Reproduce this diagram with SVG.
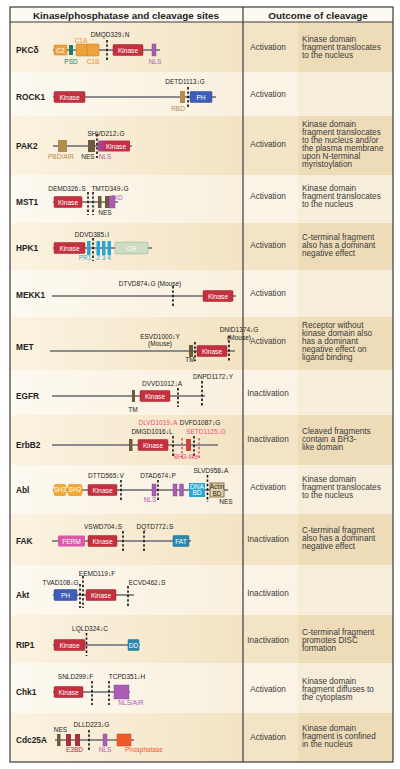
<svg xmlns="http://www.w3.org/2000/svg" width="400" height="769" viewBox="0 0 400 769">
<defs>
<linearGradient id="tan" x1="0" y1="0" x2="1" y2="0"><stop offset="0" stop-color="#fbf3e1"/><stop offset="1" stop-color="#f3e3c3"/></linearGradient>
<linearGradient id="lt" x1="0" y1="0" x2="1" y2="0"><stop offset="0" stop-color="#fdf9f0"/><stop offset="1" stop-color="#f9f0de"/></linearGradient>
<linearGradient id="pak" x1="0" y1="0" x2="1" y2="0"><stop offset="0" stop-color="#a2479a"/><stop offset="0.35" stop-color="#c2304a"/><stop offset="1" stop-color="#c2304a"/></linearGradient>
<style>
.bb{stroke:#8b8b8b;stroke-width:2;fill:none}
.cut{stroke:#111;stroke-width:1.6;stroke-dasharray:2.4 2;fill:none}
.cutp{stroke:#e8507a;stroke-width:1.6;stroke-dasharray:2.4 2;fill:none}
.lab{font-family:"Liberation Sans",Arial,sans-serif;font-weight:bold;font-size:8.3px;fill:#222}
.hd{font-family:"Liberation Sans",Arial,sans-serif;font-weight:bold;font-size:9.9px;fill:#222;text-anchor:middle}
.site{font-family:"Liberation Sans",Arial,sans-serif;font-size:6.5px;fill:#222;text-anchor:middle}
.dl{font-family:"Liberation Sans",Arial,sans-serif;font-size:6.5px;text-anchor:middle}
.dom{font-family:"Liberation Sans",Arial,sans-serif;font-size:6.6px;fill:#fff;text-anchor:middle}
.out{font-family:"Liberation Sans",Arial,sans-serif;font-size:8.2px;fill:#3a3a3a}
.oc{text-anchor:middle}
.kin{fill:#c3313f;stroke:#9c2530;stroke-width:0.5}
.org{fill:#eea23c;stroke:#c77d20;stroke-width:0.5}
.pur{fill:#ab5db5;stroke:#844290;stroke-width:0.4}
.brn{fill:#6e5a3a}
.blu{fill:#3e5db8;stroke:#2c4490;stroke-width:0.5}
.cyn{fill:#2aa6d6}
.tea{fill:#2a88ad;stroke:#1f6c8a;stroke-width:0.5}
.tn{fill:#b48d4e}
</style>
</defs>
<rect x="0" y="0" width="400" height="769" fill="#ffffff"/>
<g id="rows">
<rect x="10" y="7" width="383" height="15" fill="#fdfaf3"/>
<rect x="10" y="22" width="233" height="50" fill="url(#tan)"/><rect x="243" y="22" width="55" height="50" fill="#f3e4c6"/><rect x="298" y="22" width="95" height="50" fill="#eedcb9"/>
<rect x="10" y="72" width="233" height="44" fill="url(#lt)"/><rect x="243" y="72" width="55" height="44" fill="#fbf4e6"/><rect x="298" y="72" width="95" height="44" fill="#f6eddb"/>
<rect x="10" y="116" width="233" height="59" fill="url(#tan)"/><rect x="243" y="116" width="55" height="59" fill="#f3e4c6"/><rect x="298" y="116" width="95" height="59" fill="#eedcb9"/>
<rect x="10" y="175" width="233" height="48" fill="url(#lt)"/><rect x="243" y="175" width="55" height="48" fill="#fbf4e6"/><rect x="298" y="175" width="95" height="48" fill="#f6eddb"/>
<rect x="10" y="223" width="233" height="47" fill="url(#tan)"/><rect x="243" y="223" width="55" height="47" fill="#f3e4c6"/><rect x="298" y="223" width="95" height="47" fill="#eedcb9"/>
<rect x="10" y="270" width="233" height="47" fill="url(#lt)"/><rect x="243" y="270" width="55" height="47" fill="#fbf4e6"/><rect x="298" y="270" width="95" height="47" fill="#f6eddb"/>
<rect x="10" y="317" width="233" height="53" fill="url(#tan)"/><rect x="243" y="317" width="55" height="53" fill="#f3e4c6"/><rect x="298" y="317" width="95" height="53" fill="#eedcb9"/>
<rect x="10" y="370" width="233" height="45" fill="url(#lt)"/><rect x="243" y="370" width="55" height="45" fill="#fbf4e6"/><rect x="298" y="370" width="95" height="45" fill="#f6eddb"/>
<rect x="10" y="415" width="233" height="50" fill="url(#tan)"/><rect x="243" y="415" width="55" height="50" fill="#f3e4c6"/><rect x="298" y="415" width="95" height="50" fill="#eedcb9"/>
<rect x="10" y="465" width="233" height="49" fill="url(#lt)"/><rect x="243" y="465" width="55" height="49" fill="#fbf4e6"/><rect x="298" y="465" width="95" height="49" fill="#f6eddb"/>
<rect x="10" y="514" width="233" height="51" fill="url(#tan)"/><rect x="243" y="514" width="55" height="51" fill="#f3e4c6"/><rect x="298" y="514" width="95" height="51" fill="#eedcb9"/>
<rect x="10" y="565" width="233" height="50" fill="url(#lt)"/><rect x="243" y="565" width="55" height="50" fill="#fbf4e6"/><rect x="298" y="565" width="95" height="50" fill="#f6eddb"/>
<rect x="10" y="615" width="233" height="48" fill="url(#tan)"/><rect x="243" y="615" width="55" height="48" fill="#f3e4c6"/><rect x="298" y="615" width="95" height="48" fill="#eedcb9"/>
<rect x="10" y="663" width="233" height="50" fill="url(#lt)"/><rect x="243" y="663" width="55" height="50" fill="#fbf4e6"/><rect x="298" y="663" width="95" height="50" fill="#f6eddb"/>
<rect x="10" y="713" width="233" height="49" fill="url(#tan)"/><rect x="243" y="713" width="55" height="49" fill="#f3e4c6"/><rect x="298" y="713" width="95" height="49" fill="#eedcb9"/>
</g>
<g id="frame" fill="none" stroke="#3a3a3a" stroke-width="1.2">
<rect x="10" y="7" width="383" height="755"/>
<line x1="10" y1="22" x2="393" y2="22"/>
<line x1="243" y1="7" x2="243" y2="762"/>
</g>
<g id="header">
<text class="hd" x="126" y="18.5">Kinase/phosphatase and cleavage sites</text>
<text class="hd" x="318" y="18.5">Outcome of cleavage</text>
</g>

<g id="pkcd">
<text class="lab" x="16" y="53">PKCδ</text>
<line class="bb" x1="53" y1="50" x2="160" y2="50"/>
<rect class="org" x="54" y="45" width="13" height="10" rx="1"/><text class="dom" x="60.5" y="52.5">C2</text>
<rect x="69" y="45" width="4" height="10" fill="#1e7d6c"/>
<rect class="org" x="76" y="44" width="23" height="12" rx="1"/><line x1="87" y1="44" x2="87" y2="56" stroke="#c77d20" stroke-width="0.6"/>
<line class="cut" x1="107" y1="40" x2="107" y2="61"/>
<rect class="kin" x="113" y="44.5" width="30" height="11" rx="1"/><text class="dom" x="128" y="52.5">Kinase</text>
<rect class="pur" x="152" y="44" width="4" height="12"/>
<text class="site" x="110" y="37">DMQD329↓N</text>
<text class="dl" x="81" y="43" fill="#ec8a3a">C1A</text>
<text class="dl" x="71" y="63.5" fill="#1e7d6c">PSD</text>
<text class="dl" x="93" y="63.5" fill="#ec8a3a">C1B</text>
<text class="dl" x="155" y="63.5" fill="#ab5db5">NLS</text>
<text class="out oc" x="268" y="50">Activation</text>
<text class="out" x="302" y="42">Kinase domain</text>
<text class="out" x="302" y="50">fragment translocates</text>
<text class="out" x="302" y="58">to the nucleus</text>
</g>

<g id="rock1">
<text class="lab" x="16" y="100">ROCK1</text>
<line class="bb" x1="53" y1="97" x2="216" y2="97"/>
<rect class="kin" x="54" y="91.5" width="31" height="11" rx="1"/><text class="dom" x="69.5" y="99.5">Kinase</text>
<rect class="tn" x="180" y="91" width="5" height="12"/>
<line class="cut" x1="188" y1="87" x2="188" y2="108"/>
<rect class="blu" x="190" y="91.5" width="22" height="11" rx="1"/><text class="dom" x="201" y="99.5">PH</text>
<text class="site" x="185" y="84">DETD1113↓G</text>
<text class="dl" x="178" y="110.5" fill="#b48d4e">RBD</text>
<text class="out oc" x="268" y="97">Activation</text>
</g>

<g id="pak2">
<text class="lab" x="16" y="149">PAK2</text>
<line class="bb" x1="53" y1="146" x2="132" y2="146"/>
<rect class="tn" x="58" y="140" width="9" height="12"/>
<rect class="brn" x="88" y="140" width="7" height="12"/>
<rect x="98" y="140.5" width="32" height="11" rx="1" fill="url(#pak)"/><text class="dom" x="116" y="148.5">Kinase</text>
<line class="cut" x1="97" y1="134" x2="97" y2="158"/>
<text class="site" x="106" y="136">SHVD212↓G</text>
<text class="dl" x="61" y="159" fill="#b48d4e">PBD/AIR</text>
<text class="dl" x="88" y="159" fill="#222">NES</text>
<text class="dl" x="105" y="159" fill="#ab5db5">NLS</text>
<text class="out oc" x="268" y="147">Activation</text>
<text class="out" x="302" y="127">Kinase domain</text>
<text class="out" x="302" y="135">fragment translocates</text>
<text class="out" x="302" y="143">to the nucleus and/or</text>
<text class="out" x="302" y="151">the plasma membrane</text>
<text class="out" x="302" y="159">upon N-terminal</text>
<text class="out" x="302" y="167">myristoylation</text>
</g>

<g id="mst1">
<text class="lab" x="16" y="205">MST1</text>
<line class="bb" x1="53" y1="202" x2="118" y2="202"/>
<rect class="kin" x="54" y="196.5" width="28" height="11" rx="1"/><text class="dom" x="68" y="204.5">Kinase</text>
<line class="cut" x1="88" y1="192" x2="88" y2="215"/>
<line class="cut" x1="93" y1="192" x2="93" y2="215"/>
<rect class="brn" x="98" y="196" width="3.5" height="12"/>
<rect class="brn" x="105" y="196" width="4" height="12"/>
<rect class="pur" x="109" y="196" width="6" height="12"/>
<text class="site" x="67" y="191">DEMD326↓S</text>
<text class="site" x="110" y="191">TMTD349↓G</text>
<text class="dl" x="117" y="199.5" fill="#ab5db5" text-anchor="start">DID</text>
<text class="dl" x="105" y="215" fill="#222">NES</text>
<text class="out oc" x="268" y="199">Activation</text>
<text class="out" x="302" y="191">Kinase domain</text>
<text class="out" x="302" y="199">fragment translocates</text>
<text class="out" x="302" y="207">to the nucleus</text>
</g>

<g id="hpk1">
<text class="lab" x="16" y="251">HPK1</text>
<line class="bb" x1="53" y1="248" x2="152" y2="248"/>
<rect class="kin" x="54" y="242.5" width="31" height="11" rx="1"/><text class="dom" x="69.5" y="250.5">Kinase</text>
<rect class="cyn" x="87" y="241" width="3.5" height="14"/>
<rect class="cyn" x="96.5" y="241" width="3.5" height="14"/>
<rect class="cyn" x="102" y="241" width="3.5" height="14"/>
<rect class="cyn" x="107.5" y="241" width="3.5" height="14"/>
<line class="cut" x1="93" y1="238" x2="93" y2="261"/>
<rect x="115" y="242" width="33" height="12" rx="1" fill="#cfdcc4" stroke="#9aa890" stroke-width="0.5"/><text class="dom" x="131.5" y="250.5">CH</text>
<text class="site" x="92" y="237">DDVD385↓I</text>
<text class="dl" x="85" y="260" fill="#2aa6d6">PR1</text>
<text class="dl" x="98" y="260" fill="#2aa6d6">2</text>
<text class="dl" x="103.5" y="260" fill="#2aa6d6">3</text>
<text class="dl" x="109" y="260" fill="#2aa6d6">4</text>
<text class="out oc" x="268" y="248">Activation</text>
<text class="out" x="302" y="240">C-terminal fragment</text>
<text class="out" x="302" y="248">also has a dominant</text>
<text class="out" x="302" y="256">negative effect</text>
</g>

<g id="mekk1">
<text class="lab" x="16" y="298">MEKK1</text>
<line class="bb" x1="52" y1="296" x2="236" y2="296"/>
<line class="cut" x1="173" y1="286" x2="173" y2="306"/>
<rect class="kin" x="203" y="290.5" width="30" height="11" rx="1"/><text class="dom" x="218" y="298.5">Kinase</text>
<text class="site" x="150" y="285.5" text-anchor="start">DTVD874↓G (Mouse)</text>
<text class="out oc" x="268" y="296">Activation</text>
</g>

<g id="met">
<text class="lab" x="16" y="350">MET</text>
<line class="bb" x1="50" y1="351" x2="235" y2="351"/>
<rect class="brn" x="189" y="345" width="4" height="12"/>
<line class="cut" x1="195" y1="342" x2="195" y2="361"/>
<rect class="kin" x="197" y="345.5" width="30" height="11" rx="1"/><text class="dom" x="212" y="353.5">Kinase</text>
<line class="cut" x1="229" y1="336" x2="229" y2="361"/>
<text class="site" x="160" y="339" text-anchor="start">ESVD1000↓Y</text>
<text class="site" x="160" y="346" text-anchor="start">(Mouse)</text>
<text class="site" x="239" y="332" text-anchor="end">DNID1374↓G</text>
<text class="site" x="239" y="339.5" text-anchor="end">(Mouse)</text>
<text class="site" x="190" y="362">TM</text>
<text class="out oc" x="268" y="344">Activation</text>
<text class="out" x="302" y="328">Receptor without</text>
<text class="out" x="302" y="336">kinase domain also</text>
<text class="out" x="302" y="344">has a dominant</text>
<text class="out" x="302" y="352">negative effect on</text>
<text class="out" x="302" y="360">ligand binding</text>
</g>

<g id="egfr">
<text class="lab" x="16" y="399">EGFR</text>
<line class="bb" x1="52" y1="396" x2="205" y2="396"/>
<rect class="brn" x="132" y="390" width="3" height="12"/>
<rect class="kin" x="140" y="390.5" width="30" height="11" rx="1"/><text class="dom" x="155" y="398.5">Kinase</text>
<line class="cut" x1="178" y1="388" x2="178" y2="407"/>
<line class="cut" x1="202" y1="381" x2="202" y2="407"/>
<text class="site" x="162" y="386">DVVD1012↓A</text>
<text class="site" x="213" y="379">DNPD1172↓Y</text>
<text class="site" x="133" y="412">TM</text>
<text class="out oc" x="268" y="396">Inactivation</text>
</g>

<g id="erbb2">
<text class="lab" x="16" y="448">ErbB2</text>
<line class="bb" x1="52" y1="445" x2="218" y2="445"/>
<rect class="brn" x="129" y="439" width="3.5" height="12"/>
<rect class="kin" x="138" y="439.5" width="30" height="11" rx="1"/><text class="dom" x="153" y="447.5">Kinase</text>
<line class="cut" x1="173" y1="436" x2="173" y2="457"/>
<line class="cutp" x1="182" y1="438" x2="182" y2="458"/>
<rect x="186" y="439" width="5" height="12" fill="#c4483a"/>
<line class="cut" x1="194" y1="436" x2="194" y2="457"/>
<line class="cutp" x1="199" y1="438" x2="199" y2="458"/>
<text class="dl" x="158" y="425" fill="#e8507a">DLVD1019↓A</text>
<text class="site" x="152" y="434">DMGD1016↓L</text>
<text class="site" x="200" y="425">DVFD1087↓G</text>
<text class="dl" x="206" y="434" fill="#e8507a">SETD1125↓G</text>
<text class="dl" x="186" y="459" fill="#e8507a" text-anchor="start">BH3-like</text>
<text class="out oc" x="268" y="442">Inactivation</text>
<text class="out" x="302" y="434">Cleaved fragments</text>
<text class="out" x="302" y="442">contain a BH3-</text>
<text class="out" x="302" y="450">like domain</text>
</g>

<g id="abl">
<text class="lab" x="16" y="493">Abl</text>
<line class="bb" x1="53" y1="490" x2="228" y2="490"/>
<polygon points="55,484.5 65,484.5 67,490 65,495.5 55,495.5 53,490" fill="#f2a930" stroke="#c98518" stroke-width="0.5"/><text class="dom" x="60" y="492.3" font-size="5.5">SH3</text>
<polygon points="69,484.5 81,484.5 83,490 81,495.5 69,495.5 67,490" fill="#f2a930" stroke="#c98518" stroke-width="0.5"/><text class="dom" x="75" y="492.3" font-size="5.5">SH2</text>
<rect class="kin" x="88" y="484.5" width="29" height="11" rx="1"/><text class="dom" x="102.5" y="492.5">Kinase</text>
<line class="cut" x1="121" y1="480" x2="121" y2="502"/>
<rect class="pur" x="152" y="484" width="4" height="12"/>
<line class="cut" x1="158" y1="480" x2="158" y2="502"/>
<rect class="pur" x="173" y="484" width="4" height="12"/>
<rect class="pur" x="179.5" y="484" width="4" height="12"/>
<rect x="189" y="483" width="16" height="14" fill="#2aa6d6"/><text class="dom" x="197" y="489" font-size="5.5">DNA</text><text class="dom" x="197" y="495" font-size="5.5">BD</text>
<line class="cut" x1="207.5" y1="475" x2="207.5" y2="502"/>
<rect x="210" y="483" width="14" height="14" fill="#e4d2a6" stroke="#6e5a3a" stroke-width="0.8"/><text class="site" x="217" y="489" font-size="5.8">Actin</text><text class="site" x="217" y="495.5" font-size="5.8">BD</text>
<text class="site" x="106" y="478">DTTD565↓V</text>
<text class="site" x="158" y="478">DTAD674↓P</text>
<text class="site" x="211" y="473">SLVD958↓A</text>
<text class="dl" x="150" y="501.5" fill="#ab5db5">NLS</text>
<text class="site" x="226" y="504">NES</text>
<text class="out oc" x="268" y="490">Activation</text>
<text class="out" x="302" y="482">Kinase domain</text>
<text class="out" x="302" y="490">fragment translocates</text>
<text class="out" x="302" y="498">to the nucleus</text>
</g>

<g id="fak">
<text class="lab" x="16" y="544">FAK</text>
<line class="bb" x1="52" y1="541" x2="191" y2="541"/>
<rect x="58" y="535.5" width="27" height="11" rx="1" fill="#d95aa8"/><text class="dom" x="71.5" y="543.5">FERM</text>
<rect class="kin" x="88" y="535.5" width="29" height="11" rx="1"/><text class="dom" x="102.5" y="543.5">Kinase</text>
<line class="cut" x1="123" y1="531" x2="123" y2="552"/>
<line class="cut" x1="144" y1="531" x2="144" y2="552"/>
<rect class="tea" x="173" y="535.5" width="16" height="11" rx="1"/><text class="dom" x="181" y="543.5">FAT</text>
<text class="site" x="103" y="529">VSWD704↓S</text>
<text class="site" x="155" y="529">DQTD772↓S</text>
<text class="out oc" x="268" y="542">Inactivation</text>
<text class="out" x="302" y="533">C-terminal fragment</text>
<text class="out" x="302" y="541">also has a dominant</text>
<text class="out" x="302" y="549">negative effect</text>
</g>

<g id="akt">
<text class="lab" x="16" y="598">Akt</text>
<line class="bb" x1="53" y1="595" x2="134" y2="595"/>
<rect class="blu" x="54" y="589.5" width="23" height="11" rx="1"/><text class="dom" x="65.5" y="597.5">PH</text>
<line class="cut" x1="80" y1="584" x2="80" y2="608"/>
<line class="cut" x1="83" y1="576" x2="83" y2="608"/>
<rect class="kin" x="86" y="589.5" width="30" height="11" rx="1"/><text class="dom" x="101" y="597.5">Kinase</text>
<line class="cut" x1="128" y1="586" x2="128" y2="608"/>
<text class="site" x="97" y="575.5">EEMD119↓F</text>
<text class="site" x="60.5" y="585">TVAD108↓G</text>
<text class="site" x="147" y="585">ECVD462↓S</text>
<text class="out oc" x="268" y="596">Inactivation</text>
</g>

<g id="rip1">
<text class="lab" x="16" y="648">RIP1</text>
<line class="bb" x1="53" y1="645" x2="140" y2="645"/>
<rect class="kin" x="54" y="639.5" width="31" height="11" rx="1"/><text class="dom" x="69.5" y="647.5">Kinase</text>
<line class="cut" x1="86.5" y1="633" x2="86.5" y2="656"/>
<rect class="tea" x="128" y="639.5" width="11" height="11" rx="1"/><text class="dom" x="133.5" y="647.5">DD</text>
<text class="site" x="90" y="631">LQLD324↓C</text>
<text class="out oc" x="268" y="643">Inactivation</text>
<text class="out" x="302" y="635">C-terminal fragment</text>
<text class="out" x="302" y="643">promotes DISC</text>
<text class="out" x="302" y="651">formation</text>
</g>

<g id="chk1">
<text class="lab" x="16" y="695">Chk1</text>
<line class="bb" x1="53" y1="692" x2="130" y2="692"/>
<rect class="kin" x="54" y="686.5" width="29" height="11" rx="1"/><text class="dom" x="68.5" y="694.5">Kinase</text>
<line class="cut" x1="92" y1="681" x2="92" y2="705"/>
<line class="cut" x1="109" y1="681" x2="109" y2="705"/>
<rect class="pur" x="114" y="685" width="15" height="14"/>
<text class="site" x="75.5" y="679">SNLD299↓F</text>
<text class="site" x="127" y="679">TCPD351↓H</text>
<text class="dl" x="131" y="704.5" fill="#ab5db5">NLS/AIR</text>
<text class="out oc" x="268" y="692">Activation</text>
<text class="out" x="302" y="684">Kinase domain</text>
<text class="out" x="302" y="692">fragment diffuses to</text>
<text class="out" x="302" y="700">the cytoplasm</text>
</g>

<g id="cdc25a">
<text class="lab" x="16" y="743">Cdc25A</text>
<line class="bb" x1="55" y1="740" x2="134" y2="740"/>
<rect class="brn" x="57" y="734" width="3.5" height="12"/>
<rect x="66" y="734" width="5" height="12" fill="#a5313a"/>
<rect x="75" y="734" width="5" height="12" fill="#a5313a"/>
<line class="cut" x1="89" y1="730" x2="89" y2="752"/>
<rect class="pur" x="103" y="734" width="4" height="12"/>
<rect x="117" y="734" width="14" height="12" fill="#ef5a2a" stroke="#c9441c" stroke-width="0.5"/>
<text class="site" x="60.5" y="731.5">NES</text>
<text class="site" x="91.5" y="727">DLLD223↓G</text>
<text class="dl" x="74.5" y="751.5" fill="#a5313a">E3BD</text>
<text class="dl" x="105" y="751.5" fill="#ab5db5">NLS</text>
<text class="dl" x="144" y="751.5" fill="#ef5a2a">Phosphatase</text>
<text class="out oc" x="268" y="740">Activation</text>
<text class="out" x="302" y="731">Kinase domain</text>
<text class="out" x="302" y="739">fragment is confined</text>
<text class="out" x="302" y="747">in the nucleus</text>
</g>
</svg>
